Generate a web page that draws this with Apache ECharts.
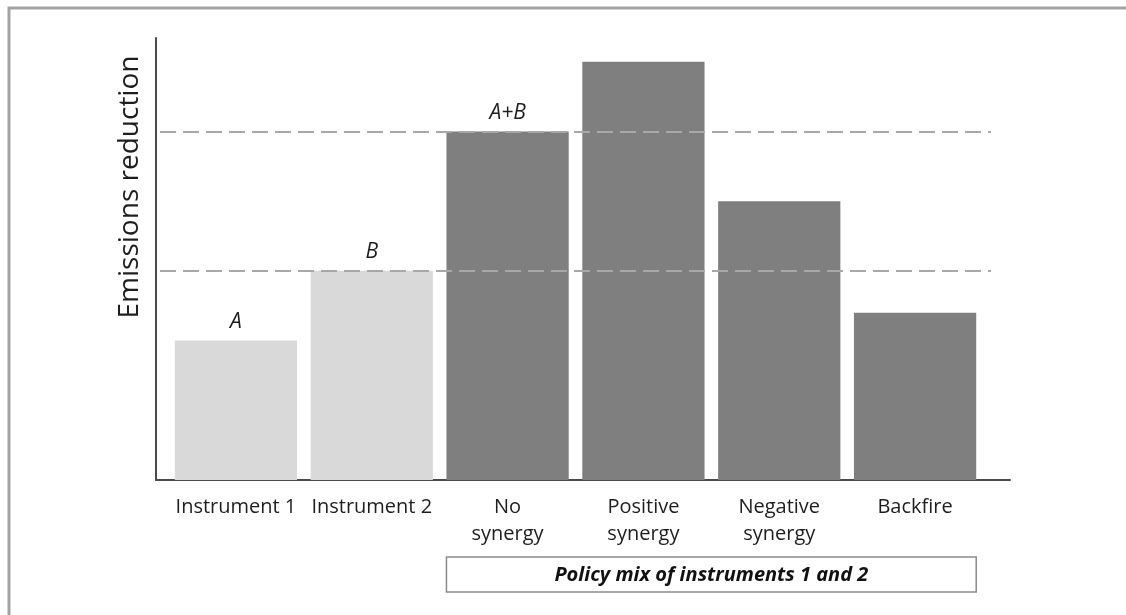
<!DOCTYPE html>
<html>
<head>
<meta charset="utf-8">
<script src="https://cdn.jsdelivr.net/npm/echarts@6/dist/echarts.min.js"></script>
<style>
html,body{margin:0;padding:0;background:#fff;}
#chart{width:1126px;height:615px;}
</style>
</head>
<body>
<div id="chart"></div>
<script>
// ---- data ----
const categories = ['Instrument 1', 'Instrument 2', 'No\nsynergy', 'Positive\nsynergy', 'Negative\nsynergy', 'Backfire'];
const reductionValues = [4, 6, 10, 12, 8, 4.8];
const barLabels = ['A', 'B', 'A+B', '', '', ''];
const barGroups = ['single', 'single', 'mix', 'mix', 'mix', 'mix'];
const referenceLevels = [reductionValues[1], reductionValues[0] + reductionValues[1]]; // B and A+B
const yAxisTitle = 'Emissions reduction';
const mixBoxTitle = 'Policy mix of instruments 1 and 2';
const yMax = 12.68;

const FONT = '"Open Sans", Lato, sans-serif';
const colorFor = g => g === 'single' ? '#d9d9d9' : '#7f7f7f';

const chart = echarts.init(document.getElementById('chart'), null, {renderer: 'canvas'});

const gridTop = 38, gridBottom = 135;

const option = {
  animation: false,
  backgroundColor: '#ffffff',
  grid: [
    {left: 168, right: 1126 - 983, top: gridTop, bottom: gridBottom},   // bars
    {left: 156, right: 1126 - 1010, top: gridTop, bottom: gridBottom},  // axis frame
    {left: 160, right: 1126 - 991, top: gridTop, bottom: gridBottom}    // reference lines
  ],
  xAxis: [
    {
      gridIndex: 0, type: 'category', data: categories,
      axisLine: {show: false}, axisTick: {show: false},
      axisLabel: {
        interval: 0, margin: 14, color: '#1e1e1e', fontFamily: FONT, fontSize: 20, lineHeight: 27
      }
    },
    {
      gridIndex: 1, type: 'value', min: 0, max: 1,
      axisLine: {show: true, onZero: false, lineStyle: {color: '#4a4a4a', width: 2}},
      axisTick: {show: false}, axisLabel: {show: false}, splitLine: {show: false}
    },
    {
      gridIndex: 2, type: 'value', min: 0, max: 1, show: false
    }
  ],
  yAxis: [
    {gridIndex: 0, type: 'value', min: 0, max: yMax, show: false},
    {
      gridIndex: 1, type: 'value', min: 0, max: yMax,
      axisLine: {show: true, lineStyle: {color: '#4a4a4a', width: 2}},
      axisTick: {show: false}, axisLabel: {show: false}, splitLine: {show: false}
    },
    {gridIndex: 2, type: 'value', min: 0, max: yMax, show: false}
  ],
  series: [
    {
      type: 'bar', xAxisIndex: 0, yAxisIndex: 0,
      barCategoryGap: '10%',
      data: reductionValues.map((v, i) => ({
        value: v,
        itemStyle: {color: colorFor(barGroups[i])},
        label: {
          show: barLabels[i] !== '', formatter: barLabels[i], position: 'top', distance: 8,
          fontFamily: FONT, fontStyle: 'italic', fontSize: 21, color: '#1e1e1e'
        }
      })),
      z: 3
    },
    {
      type: 'line', xAxisIndex: 2, yAxisIndex: 2, data: [],
      markLine: {
        silent: true, symbol: 'none', label: {show: false},
        lineStyle: {color: '#a8a8a8', width: 2, type: [16, 7]},
        data: referenceLevels.map(v => ({yAxis: v}))
      },
      z: 4
    }
  ]
};
chart.setOption(option);

// annotation graphics positioned from the category axis
const slotW = (983 - 168) / categories.length;
const barW = slotW * 0.9;
const firstMix = barGroups.indexOf('mix');
const lastMix = barGroups.lastIndexOf('mix');
const boxLeft = chart.convertToPixel({xAxisIndex: 0}, categories[firstMix]) - barW / 2;
const boxRight = chart.convertToPixel({xAxisIndex: 0}, categories[lastMix]) + barW / 2;
const boxTop = 557, boxH = 35;

chart.setOption({
  graphic: [
    {
      type: 'rect', shape: {x: 9, y: 8, width: 1200, height: 700},
      style: {fill: 'none', stroke: '#a3a3a3', lineWidth: 3}, silent: true, z: 0
    },
    {
      type: 'text', x: 130, y: 187, rotation: Math.PI / 2,
      style: {
        text: yAxisTitle, fontFamily: FONT, fontSize: 28, fill: '#1e1e1e',
        align: 'center', verticalAlign: 'middle'
      }
    },
    {
      type: 'rect', shape: {x: boxLeft, y: boxTop, width: boxRight - boxLeft, height: boxH},
      style: {fill: '#fff', stroke: '#8a8a8a', lineWidth: 1.5}
    },
    {
      type: 'text', x: (boxLeft + boxRight) / 2, y: boxTop + boxH / 2 + 1,
      style: {
        text: mixBoxTitle, fontFamily: FONT, fontSize: 20, fontStyle: 'italic', fontWeight: 'bold',
        fill: '#111', align: 'center', verticalAlign: 'middle'
      }
    }
  ]
});
</script>
</body>
</html>
